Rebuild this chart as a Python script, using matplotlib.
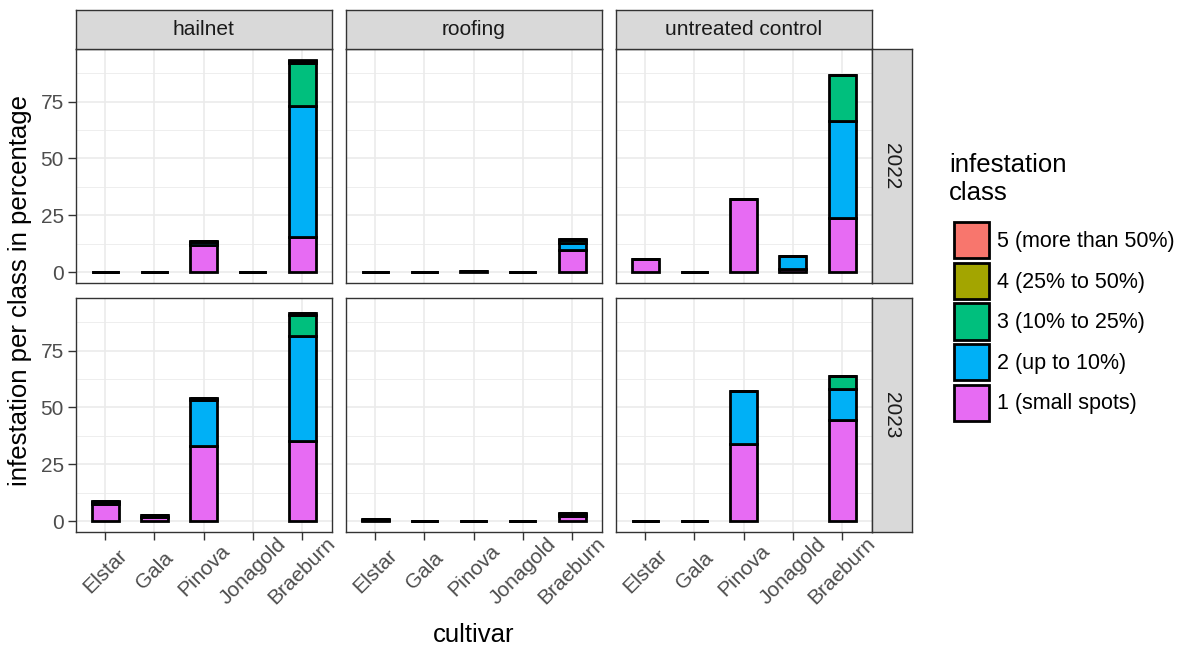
import matplotlib
matplotlib.use("Agg")
import matplotlib.pyplot as plt
from matplotlib.patches import Patch
import numpy as np

plt.rcParams['font.family'] = ['Liberation Sans', 'DejaVu Sans']

W, H = 1184, 648

cultivars = ['Elstar', 'Gala', 'Pinova', 'Jonagold', 'Braeburn']
treatments = ['hailnet', 'roofing', 'untreated control']
years = ['2022', '2023']
classes = ['1 (small spots)', '2 (up to 10%)', '3 (10% to 25%)',
           '4 (25% to 50%)', '5 (more than 50%)']
colors = ['#E76BF3', '#00B0F6', '#00BF7D', '#A3A500', '#F8766D']

nan = np.nan
# infestation in %, one row per treatment, one column per cultivar
class1_2022 = [[0, 0, 12.0, 0.2, 15.5], [0, 0, 0.4, 0, 10.0], [6.0, 0, 32.0, 1.6, 24.0]]
class2_2022 = [[0, 0, 1.3, 0, 57.5], [0, 0, 0, 0, 3.0], [0, 0, 0, 5.6, 42.4]]
class3_2022 = [[0, 0, 0.3, 0, 19.0], [0, 0, 0, 0, 1.3], [0, 0, 0, 0, 20.3]]
class4_2022 = [[0, 0, 0, 0, 1.0], [0, 0, 0, 0, 0.5], [0, 0, 0, 0, 0]]
class5_2022 = [[0, 0, 0, 0, 0.4], [0, 0, 0, 0, 0], [0, 0, 0, 0, 0]]

# 2023: no Jonagold data for hailnet and untreated control
class1_2023 = [[7.5, 2.0, 33.3, nan, 35.2], [0.8, 0.3, 0.2, 0.2, 2.4], [0, 0, 34.0, nan, 44.3]]
class2_2023 = [[0.8, 0.6, 19.9, nan, 46.4], [0.3, 0, 0, 0, 0.8], [0, 0, 23.2, nan, 13.7]]
class3_2023 = [[0.4, 0.2, 0.6, nan, 8.9], [0, 0, 0, 0, 0.4], [0, 0, 0, nan, 6.0]]
class4_2023 = [[0.3, 0.2, 0.4, nan, 1.0], [0, 0, 0, 0, 0], [0, 0, 0, nan, 0]]
class5_2023 = [[0, 0, 0, nan, 0], [0, 0, 0, 0, 0], [0, 0, 0, nan, 0]]

data = {
    '2022': [class1_2022, class2_2022, class3_2022, class4_2022, class5_2022],
    '2023': [class1_2023, class2_2023, class3_2023, class4_2023, class5_2023],
}

fig = plt.figure(figsize=(W / 100, H / 100), dpi=100)

# layout in pixels
col_left = [75.7, 345.7, 615.7]
row_top = [49, 298]
pw, ph = 256, 234
strip_h, strip_w = 39, 40

def px_axes(l, t, w, h):
    return fig.add_axes([l / W, 1 - (t + h) / H, w / W, h / H])

def strip_style(a):
    a.set_facecolor('#D9D9D9')
    a.set_xticks([])
    a.set_yticks([])
    for s in a.spines.values():
        s.set_color('#333333')
        s.set_linewidth(1.0)

x = np.arange(1, len(cultivars) + 1)

for ri, year in enumerate(years):
    for ti, treat in enumerate(treatments):
        ax = px_axes(col_left[ti], row_top[ri], pw, ph)
        bottom = np.zeros(len(cultivars))
        for k in range(len(classes)):
            vals = np.array(data[year][k][ti], dtype=float)
            ok = ~np.isnan(vals)
            ax.bar(x[ok], vals[ok], bottom=bottom[ok], width=0.55,
                   color=colors[k], edgecolor='black', linewidth=2.0,
                   zorder=3)
            bottom = bottom + np.nan_to_num(vals)

        ax.set_xlim(0.4, 5.6)
        ax.set_ylim(-4.67, 98.07)
        ax.set_xticks(x)
        ax.set_yticks([0, 25, 50, 75])
        ax.set_yticks([12.5, 37.5, 62.5, 87.5], minor=True)
        ax.grid(True, which='major', color='#EBEBEB', linewidth=1.2)
        ax.grid(True, which='minor', axis='y', color='#EBEBEB', linewidth=0.6)
        ax.set_axisbelow(True)
        for s in ax.spines.values():
            s.set_color('#333333')
            s.set_linewidth(1.0)
        ax.tick_params(which='minor', length=0)
        ax.tick_params(which='major', length=5.5, width=1.0, color='#333333',
                       labelcolor='#4D4D4D', labelsize=15)

        if ti == 0:
            ax.set_yticklabels(['0', '25', '50', '75'])
            ax.tick_params(axis='y', pad=3.0)
        else:
            ax.tick_params(axis='y', length=0, labelleft=False)

        if ri == len(years) - 1:
            ax.set_xticklabels(cultivars, rotation=45, ha='center', va='center',
                               rotation_mode='anchor')
            ax.tick_params(axis='x', pad=22.5)
        else:
            ax.tick_params(axis='x', length=0, labelbottom=False)

        if ri == 0:
            sax = px_axes(col_left[ti], row_top[0] - strip_h, pw, strip_h)
            strip_style(sax)
            sax.text(0.5, 0.5, treat, ha='center', va='center', fontsize=15,
                     color='#1A1A1A', transform=sax.transAxes)

    rax = px_axes(col_left[-1] + pw, row_top[ri], strip_w, ph)
    strip_style(rax)
    rax.text(0.5, 0.5, year, ha='center', va='center', rotation=-90,
             fontsize=15, color='#1A1A1A', transform=rax.transAxes)

fig.text(474 / W, 1 - 635 / H, 'cultivar', ha='center', va='center',
         fontsize=18.5)
fig.text(20 / W, 1 - 290 / H, 'infestation per class in percentage',
         ha='center', va='center', rotation=90, fontsize=18.5)

# legend
fig.text(949 / W, 1 - 153 / H, 'infestation\nclass', ha='left', va='top',
         fontsize=18.5, linespacing=1.2)
handles = [Patch(facecolor=colors[k], edgecolor='black', linewidth=2.0,
                 label=classes[k]) for k in range(len(classes) - 1, -1, -1)]
fig.legend(handles=handles, loc='upper left',
           bbox_to_anchor=(954 / W, 1 - 222 / H),
           frameon=False, fontsize=15.5,
           handlelength=1.62, handleheight=2.22, labelspacing=0.2,
           handletextpad=0.4, borderpad=0, borderaxespad=0)

fig.savefig('out.png', dpi=100)
